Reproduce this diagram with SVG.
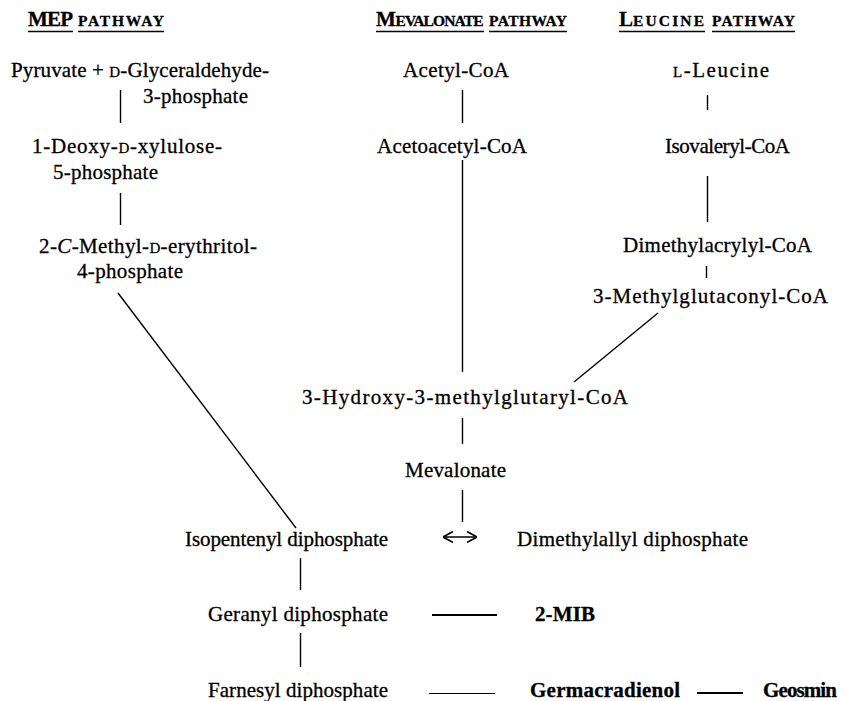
<svg xmlns="http://www.w3.org/2000/svg" width="846" height="701" viewBox="0 0 846 701" font-family="'Liberation Serif', 'DejaVu Serif', serif">
<style>
text{font-family:"Liberation Serif","DejaVu Serif",serif;font-size:21px;fill:#000;stroke:#000;stroke-width:0.3}
.h{font-weight:bold}
.hs{font-size:15.5px}
.sc{font-size:15px}
.b{font-weight:bold}
.c line{stroke:#000;stroke-width:1.4;fill:none}
.u{stroke:#000;stroke-width:1.6}
</style>
<defs>
<marker id="chev" viewBox="0 0 10 12" markerUnits="userSpaceOnUse" markerWidth="10" markerHeight="12" refX="10" refY="6" orient="auto-start-reverse">
<path d="M0,0.5 L10,6 L0,11.5" fill="none" stroke="#000" stroke-width="1.6"/>
</marker>
</defs>
<rect width="846" height="701" fill="#fff"/>

<g id="headings">
<g id="h-mep">
<text class="h" x="28" y="26" textLength="45">MEP</text>
<text class="h hs" x="78" y="26" textLength="86">PATHWAY</text>
<line class="u" x1="28" y1="31.5" x2="73" y2="31.5"/>
<line class="u" x1="78" y1="31.5" x2="164" y2="31.5"/>
</g>
<g id="h-mev">
<text class="h" x="376" y="26">M</text>
<text class="h hs" x="395.5" y="26" textLength="88">EVALONATE</text>
<text class="h hs" x="489" y="26" textLength="78">PATHWAY</text>
<line class="u" x1="376" y1="31.5" x2="484" y2="31.5"/>
<line class="u" x1="489" y1="31.5" x2="567" y2="31.5"/>
</g>
<g id="h-leu">
<text class="h" x="619" y="26">L</text>
<text class="h hs" x="633" y="26" textLength="71">EUCINE</text>
<text class="h hs" x="712" y="26" textLength="83">PATHWAY</text>
<line class="u" x1="619" y1="31.5" x2="705" y2="31.5"/>
<line class="u" x1="712" y1="31.5" x2="795" y2="31.5"/>
</g>
</g>

<g id="n-pyruvate"><text x="11" y="77" textLength="258">Pyruvate + <tspan class="sc">D</tspan>-Glyceraldehyde-</text><text x="143" y="103" textLength="105">3-phosphate</text></g>
<g id="n-dxp"><text x="32" y="153" textLength="190">1-Deoxy-<tspan class="sc">D</tspan>-xylulose-</text><text x="53" y="179" textLength="105">5-phosphate</text></g>
<g id="n-mep"><text x="39" y="253" textLength="218">2-<tspan font-style="italic">C</tspan>-Methyl-<tspan class="sc">D</tspan>-erythritol-</text><text x="77" y="278" textLength="106">4-phosphate</text></g>

<g id="n-acetylcoa"><text x="403" y="77" textLength="106">Acetyl-CoA</text></g>
<g id="n-acetoacetylcoa"><text x="377" y="153" textLength="150">Acetoacetyl-CoA</text></g>
<g id="n-hmgcoa"><text x="302" y="404" textLength="326">3-Hydroxy-3-methylglutaryl-CoA</text></g>
<g id="n-mevalonate"><text x="405" y="477" textLength="101">Mevalonate</text></g>

<g id="n-leucine"><text x="673" y="77" textLength="96"><tspan class="sc">L</tspan>-Leucine</text></g>
<g id="n-isovaleryl"><text x="665" y="153" textLength="125">Isovaleryl-CoA</text></g>
<g id="n-dimethylacrylyl"><text x="623" y="252" textLength="189">Dimethylacrylyl-CoA</text></g>
<g id="n-methylglutaconyl"><text x="593" y="303" textLength="235">3-Methylglutaconyl-CoA</text></g>

<g id="n-ipp"><text x="185" y="546" textLength="203">Isopentenyl diphosphate</text></g>
<g id="n-dmapp"><text x="517" y="546" textLength="231">Dimethylallyl diphosphate</text></g>
<g id="n-gpp"><text x="208" y="621" textLength="180">Geranyl diphosphate</text></g>
<g id="n-fpp"><text x="208" y="697" textLength="180">Farnesyl diphosphate</text></g>
<g id="n-mib"><text class="b" x="535" y="621" textLength="60">2-MIB</text></g>
<g id="n-germacradienol"><text class="b" x="530" y="697" textLength="150">Germacradienol</text></g>
<g id="n-geosmin"><text class="b" x="763" y="697" textLength="74">Geosmin</text></g>

<g id="connectors" class="c">
<line x1="120.5" y1="90" x2="120.5" y2="123"/>
<line x1="120.5" y1="193" x2="120.5" y2="225"/>
<line x1="118" y1="293" x2="296" y2="528"/>
<line x1="462.5" y1="90" x2="462.5" y2="123"/>
<line x1="462.5" y1="160" x2="462.5" y2="372"/>
<line x1="462.5" y1="418" x2="462.5" y2="444"/>
<line x1="462.5" y1="490" x2="462.5" y2="522"/>
<line x1="707.5" y1="95" x2="707.5" y2="110"/>
<line x1="707.5" y1="176" x2="707.5" y2="222"/>
<line x1="706.5" y1="266" x2="706.5" y2="278"/>
<line x1="658" y1="313" x2="574" y2="382"/>
<line x1="300.5" y1="558" x2="300.5" y2="590"/>
<line x1="300.5" y1="633" x2="300.5" y2="667"/>
<line x1="432" y1="615" x2="497" y2="615" style="stroke-width:2"/>
<line x1="429" y1="693.5" x2="495" y2="693.5" style="stroke-width:1.2"/>
<line x1="697" y1="693" x2="743" y2="693" style="stroke-width:2"/>
<line x1="443" y1="537" x2="477" y2="537" marker-start="url(#chev)" marker-end="url(#chev)"/>
</g>
</svg>
